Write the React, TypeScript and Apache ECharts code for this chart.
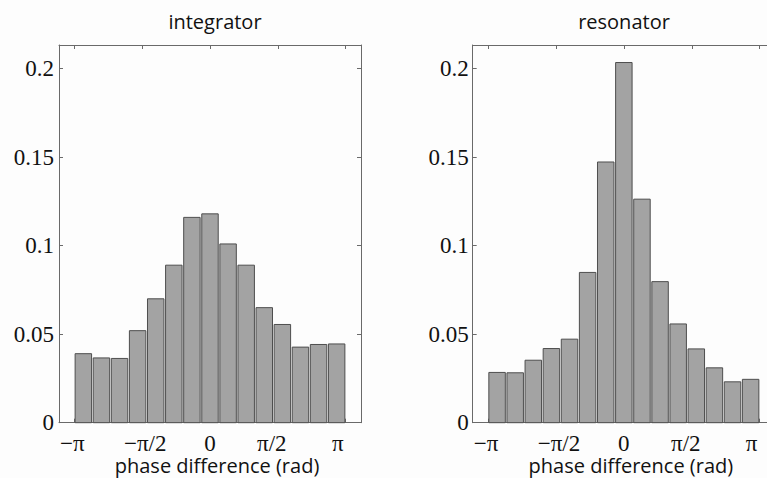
import React, { useEffect, useRef } from "react";
import * as echarts from "echarts";

const PI = Math.PI;
const integratorValues = [0.039, 0.0366, 0.0363, 0.052, 0.070, 0.089, 0.116, 0.118, 0.101, 0.089, 0.065, 0.0555, 0.0427, 0.0442, 0.0445];
const resonatorValues = [0.0284, 0.0282, 0.0353, 0.0419, 0.0472, 0.0849, 0.1473, 0.2035, 0.1263, 0.0797, 0.0558, 0.0417, 0.031, 0.0231, 0.0245];
const xTickValues = [-PI, -PI / 2, 0, PI / 2, PI];
const xTickLabels = ["−π", "−π/2", "0", "π/2", "π"];
const yTickValues = [0, 0.05, 0.1, 0.15, 0.2];
const titles = ["integrator", "resonator"];
const xAxisName = "phase difference (rad)";

const X_MIN = -3.496;
const X_MAX = 3.496;
const Y_MAX = 0.2134;

function binData(values: number[]) {
  const n = values.length;
  const w = (2 * PI) / n;
  return values.map((v, i) => [-PI + i * w, -PI + (i + 1) * w, v]);
}

const labelShift = [-2, 3, 0, -6, -8];

export default function App() {
  const ref = useRef<HTMLDivElement>(null);
  useEffect(() => {
    if (!ref.current) return;
    const chart = echarts.init(ref.current, null, { renderer: "svg" });
    const grids = [
      { left: 59, top: 45, width: 302, height: 377.7 },
      { left: 472.7, top: 45, width: 302.3, height: 377.7 },
    ];
    const rich: any = {};
    labelShift.forEach((s, i) => {
      rich["s" + i] = {
        fontFamily: "Liberation Serif",
        fontSize: 23,
        lineHeight: 20,
        color: "#111",
        padding: s < 0 ? [0, -2 * s, 0, 0] : [0, 0, 0, 2 * s],
      };
    });
    const xAxes: any[] = [];
    const yAxes: any[] = [];
    const series: any[] = [];
    const lineColor = "#6a6a6a";
    const axisLine = { show: true, onZero: false, lineStyle: { color: lineColor } };
    [0, 1].forEach((g) => {
      xAxes.push({
        type: "value",
        gridIndex: g,
        min: X_MIN,
        max: X_MAX,
        position: "bottom",
        splitLine: { show: false },
        axisLine,
        axisTick: { show: true, inside: true, length: 4, customValues: xTickValues, lineStyle: { color: lineColor } },
        axisLabel: {
          customValues: xTickValues,
          margin: 11,
          lineHeight: 20,
          formatter: (v: number) => {
            let idx = 0;
            let best = Infinity;
            xTickValues.forEach((t, i) => {
              if (Math.abs(t - v) < best) {
                best = Math.abs(t - v);
                idx = i;
              }
            });
            return "{s" + idx + "|" + xTickLabels[idx] + "}";
          },
          rich,
        },
        name: xAxisName,
        nameLocation: "middle",
        nameGap: 33,
        nameMoveOverlap: false,
        nameTextStyle: { fontFamily: "Open Sans", fontSize: 20, lineHeight: 20, color: "#111", padding: [0, 0, 0, 14] },
      });
      xAxes.push({
        type: "value",
        gridIndex: g,
        min: X_MIN,
        max: X_MAX,
        position: "top",
        splitLine: { show: false },
        axisLine,
        axisTick: { show: true, inside: true, length: 4, customValues: xTickValues, lineStyle: { color: lineColor } },
        axisLabel: { show: false },
      });
      yAxes.push({
        type: "value",
        gridIndex: g,
        min: 0,
        max: Y_MAX,
        position: "left",
        splitLine: { show: false },
        axisLine,
        axisTick: { show: true, inside: true, length: 4, customValues: yTickValues, lineStyle: { color: lineColor } },
        axisLabel: {
          customValues: yTickValues,
          margin: g === 0 ? 5 : 4,
          fontFamily: "Liberation Serif",
          fontSize: 23,
          color: "#111",
          formatter: (v: number) => String(Math.round(v * 100) / 100),
        },
      });
      yAxes.push({
        type: "value",
        gridIndex: g,
        min: 0,
        max: Y_MAX,
        position: "right",
        splitLine: { show: false },
        axisLine,
        axisTick: { show: true, inside: true, length: 4, customValues: yTickValues, lineStyle: { color: lineColor } },
        axisLabel: { show: false },
      });
      series.push({
        type: "custom",
        xAxisIndex: g * 2,
        yAxisIndex: g * 2,
        data: binData(g === 0 ? integratorValues : resonatorValues),
        renderItem: (params: any, api: any) => {
          const x0 = api.value(0);
          const x1 = api.value(1);
          const y = api.value(2);
          const p0 = api.coord([x0, y]);
          const p1 = api.coord([x1, 0]);
          const w = p1[0] - p0[0];
          const inset = w * 0.045;
          return {
            type: "rect",
            shape: { x: p0[0] + inset, y: p0[1], width: w - 2 * inset, height: p1[1] - p0[1] },
            style: { fill: "#a3a3a3", stroke: "#4e4e4e", lineWidth: 1 },
          };
        },
      });
    });
    chart.setOption({
      animation: false,
      backgroundColor: "#fdfdfd",
      title: [
        { text: titles[0], left: 210, top: 6, textAlign: "center", textStyle: { fontFamily: "Open Sans", fontSize: 20, fontWeight: "normal", color: "#111" } },
        { text: titles[1], left: 619, top: 6, textAlign: "center", textStyle: { fontFamily: "Open Sans", fontSize: 20, fontWeight: "normal", color: "#111" } },
      ],
      grid: grids.map((g) => ({ ...g, show: false, containLabel: false, outerBoundsMode: "none" })),
      xAxis: xAxes,
      yAxis: yAxes,
      series,
    });
    return () => chart.dispose();
  }, []);
  return <div ref={ref} style={{ position: "fixed", left: 0, top: 0, width: 767, height: 478 }} />;
}
